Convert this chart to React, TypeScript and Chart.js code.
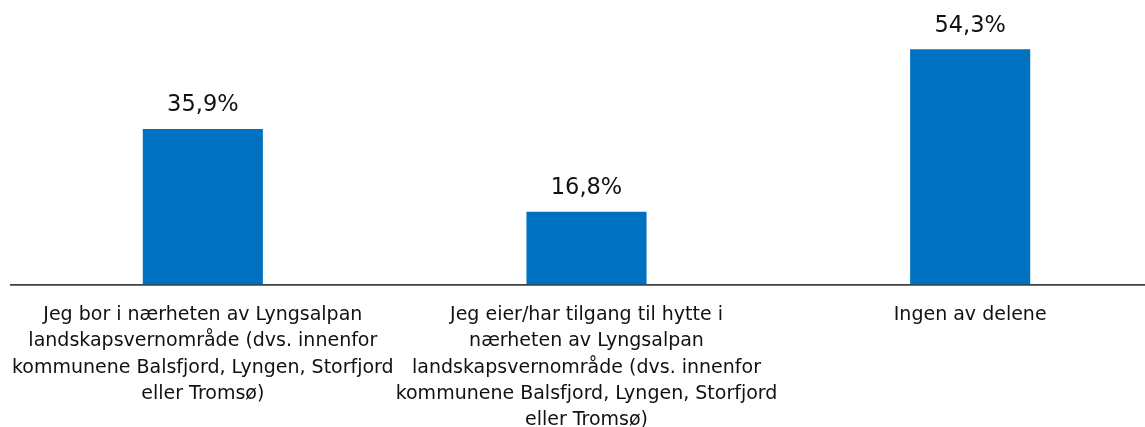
import React, { useEffect, useRef } from "react";
import { Chart, registerables } from "chart.js";

Chart.register(...registerables);

const categories: string[][] = [
  ["Jeg bor i nærheten av Lyngsalpan", "landskapsvernområde (dvs. innenfor", "kommunene Balsfjord, Lyngen, Storfjord", "eller Tromsø)"],
  ["Jeg eier/har tilgang til hytte i", "nærheten av Lyngsalpan", "landskapsvernområde (dvs. innenfor", "kommunene Balsfjord, Lyngen, Storfjord", "eller Tromsø)"],
  ["Ingen av delene"],
];
const values: number[] = [35.9, 16.8, 54.3];

const FONT = "'DejaVu Sans', sans-serif";

const valueLabels = {
  id: "valueLabels",
  afterDatasetsDraw(chart: any) {
    const ctx = chart.ctx;
    const meta = chart.getDatasetMeta(0);
    ctx.save();
    ctx.fillStyle = "#111";
    ctx.font = `22.5px ${FONT}`;
    ctx.textAlign = "center";
    ctx.textBaseline = "alphabetic";
    meta.data.forEach((bar: any, i: number) => {
      const v = values[i].toFixed(1).replace(".", ",") + "%";
      ctx.fillText(v, bar.x, bar.y - 17.5);
    });
    ctx.restore();
  },
};

export default function App() {
  const ref = useRef<HTMLCanvasElement>(null);
  useEffect(() => {
    document.documentElement.style.overflow = "hidden";
    document.body.style.margin = "0";
    const chart = new Chart(ref.current!, {
      type: "bar",
      data: {
        labels: categories,
        datasets: [
          {
            data: values,
            backgroundColor: "#0070C0",
            categoryPercentage: 1,
            barPercentage: 0.313,
          },
        ],
      },
      options: {
        responsive: false,
        animation: false,
        layout: { padding: { left: 11, top: 24.5, right: 0, bottom: 0 } },
        plugins: { legend: { display: false }, tooltip: { enabled: false } },
        scales: {
          x: {
            grid: { display: false },
            border: { display: true, color: "#404040", width: 1.7 },
            ticks: {
              color: "#111",
              font: { family: FONT, size: 19, lineHeight: 1.37 },
              padding: 10,
              maxRotation: 0,
              autoSkip: false,
            },
            afterFit: (s: any) => {
              s.paddingLeft = 0;
              s.paddingRight = 0;
              s.height = 142.5;
            },
          },
          y: { display: false, min: 0, max: 60 },
        },
      },
      plugins: [valueLabels],
    });
    return () => chart.destroy();
  }, []);
  return (
    <div style={{ width: 1145, height: 427, overflow: "hidden", position: "relative" }}>
      <canvas ref={ref} width={1162} height={427} />
    </div>
  );
}
